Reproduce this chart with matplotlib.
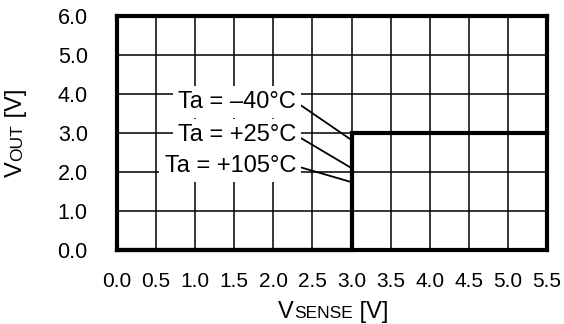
import numpy as np
import matplotlib
matplotlib.use('Agg')
import matplotlib.pyplot as plt
from matplotlib.transforms import IdentityTransform

plt.rcParams['font.family'] = ['Liberation Sans', 'DejaVu Sans']

# Ausgangsspannung ueber Sense-Spannung (Schaltschwelle bei 3.0 V)
vsense = [0.0, 3.0, 3.0, 5.5]
vout = [0.0, 0.0, 3.0, 3.0]

# Temperaturbeschriftungen mit Hinweislinien zur Schaltflanke
temp_labels = ['Ta = \u201340\u00b0C', 'Ta = +25\u00b0C', 'Ta = +105\u00b0C']
label_y = [3.64, 2.79, 2.00]
leader_end_y = [2.82, 2.10, 1.74]

x_ticks = np.arange(0, 5.51, 0.5)
y_ticks = np.arange(0, 6.01, 1.0)

fig = plt.figure(figsize=(5.64, 3.24), dpi=100)
ax = fig.add_axes([117 / 564, 74 / 324, 430 / 564, 234 / 324])

ax.plot(vsense, vout, color='k', lw=3, solid_joinstyle='miter', clip_on=False, zorder=4)

for txt, ty, ey in zip(temp_labels, label_y, leader_end_y):
    ax.annotate(txt, xy=(3.0, ey), xytext=(2.29, ty), ha='right', va='baseline',
                fontsize=17, zorder=3,
                bbox=dict(boxstyle='square,pad=0.22', fc='white', ec='none'),
                arrowprops=dict(arrowstyle='-', color='k', lw=1.3,
                                shrinkA=0, shrinkB=0, relpos=(1.0, 0.5)))

ax.set_xlim(0, 5.5)
ax.set_ylim(0, 6)
ax.set_xticks(x_ticks)
ax.set_yticks(y_ticks)
ax.set_xticklabels([f'{v:.1f}' for v in x_ticks])
ax.set_yticklabels([f'{v:.1f}' for v in y_ticks])
ax.tick_params(axis='x', length=0, pad=16, labelsize=15)
ax.tick_params(axis='y', length=0, pad=21, labelsize=15.5)
ax.grid(True, color='k', lw=1.1)
ax.set_axisbelow(True)
for s in ax.spines.values():
    s.set_linewidth(3)


def draw_label(parts, cx, cy, rotation=0):
    # Achsenbeschriftung mit kleinen Grossbuchstaben zusammensetzen (Pixelkoordinaten)
    renderer = fig.canvas.get_renderer()
    widths = []
    for text, size in parts:
        t = fig.text(0, 0, text, fontsize=size, transform=IdentityTransform())
        widths.append(t.get_window_extent(renderer).width)
        t.remove()
    pos = -sum(widths) / 2
    for (text, size), w in zip(parts, widths):
        if rotation == 0:
            x, y = cx + pos, cy
        else:
            x, y = cx, cy + pos
        fig.text(x, y, text, fontsize=size, rotation=rotation, rotation_mode='anchor',
                 ha='left', va='baseline', transform=IdentityTransform())
        pos += w


fig.canvas.draw()
draw_label([('V', 17), ('SENSE', 12.5), (' [V]', 17)], 333, 6)
draw_label([('V', 17), ('OUT', 12.5), (' [V]', 17)], 22, 191, rotation=90)

fig.savefig('out.png', dpi=100)
